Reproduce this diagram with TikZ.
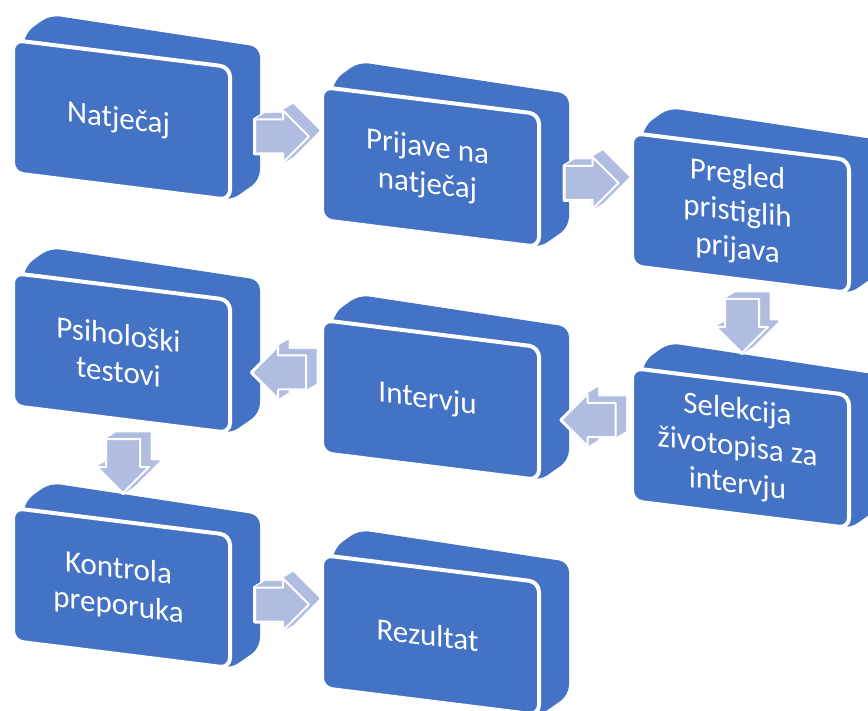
\documentclass[tikz,border=0pt]{standalone}
\usepackage{fontspec}
\setmainfont{Carlito}
\usepackage{xcolor}
\definecolor{block_blue}{RGB}{68,114,196}
\definecolor{arrow_blue}{RGB}{176,189,225}
\usepackage{tikz}
\usetikzlibrary{calc}

\def\arrowshape{(-28,-17) -- (0,-17) -- (0,-26) -- (26,0) -- (0,26) -- (0,17) -- (-28,17) -- cycle}

\tikzset{
  block_text/.style={text=white, align=center, inner sep=0pt,
    font=\fontsize{15.5}{18.5}\selectfont, yslant=-0.124, transform shape},
  block/.pic={
    \fill[block_blue, rounded corners=5pt] (-96.5,-87) -- (-71.5,-105) -- (138.5,-73)
      -- (138.5,60) -- (108.5,81) -- (-108.5,20) -- cycle;
    \filldraw[fill=block_blue, draw=white, line width=2pt, rounded corners=5pt]
      (-108.5,-80) -- (108.5,-53) -- (108.5,80) -- (-108.5,53) -- cycle;
    \node[block_text] (-txt) at (-3,0) {#1};
  },
  arrow3d/.pic={
    \foreach \k in {0,...,8}
      \draw[white, line width=2pt, line join=round, shift={(1.25*\k,-0.75*\k)}, rotate=#1] \arrowshape;
    \foreach \k in {0,...,8}
      \filldraw[arrow_blue, line width=0.7pt, line join=round, shift={(1.25*\k,-0.75*\k)}, rotate=#1] \arrowshape;
    \filldraw[fill=arrow_blue, draw=white, line width=1pt, line join=round, rotate=#1] \arrowshape;
  }
}

\begin{document}
\begin{tikzpicture}[x=0.5pt, y=-0.5pt]
\clip (0,0) rectangle (868,711);

% first row
\pic (b1) at (121.5,120) {block={Natječaj}};
\pic (b2) at (430.5,167) {block={Prijave na\\natječaj}};
\pic (b3) at (740.5,213) {block={Pregled\\pristiglih\\prijava}};

% second row
\pic (b4) at (121.5,353) {block={Psihološki\\testovi}};
\pic (b5) at (430.5,400) {block={Intervju}};
\pic (b6) at (740.5,448) {block={Selekcija\\životopisa za\\intervju}};

% third row
\pic (b7) at (121.5,588) {block={Kontrola\\preporuka}};
\pic (b8) at (430.5,635) {block={Rezultat}};

% arrows
\pic at ($(b1-txt)!0.5!(b2-txt)+(10,-7)$) {arrow3d=0};
\pic at ($(b2-txt)!0.5!(b3-txt)+(10,-7)$) {arrow3d=0};
\pic at ($(b3-txt)!0.5!(b6-txt)+(4.5,-3.5)$) {arrow3d=-90};
\pic at ($(b6-txt)!0.5!(b5-txt)+(5,-4)$) {arrow3d=180};
\pic at ($(b5-txt)!0.5!(b4-txt)+(5,-4)$) {arrow3d=180};
\pic at ($(b4-txt)!0.5!(b7-txt)+(4.5,-3.5)$) {arrow3d=-90};
\pic at ($(b7-txt)!0.5!(b8-txt)+(10,-7)$) {arrow3d=0};

\end{tikzpicture}
\end{document}
